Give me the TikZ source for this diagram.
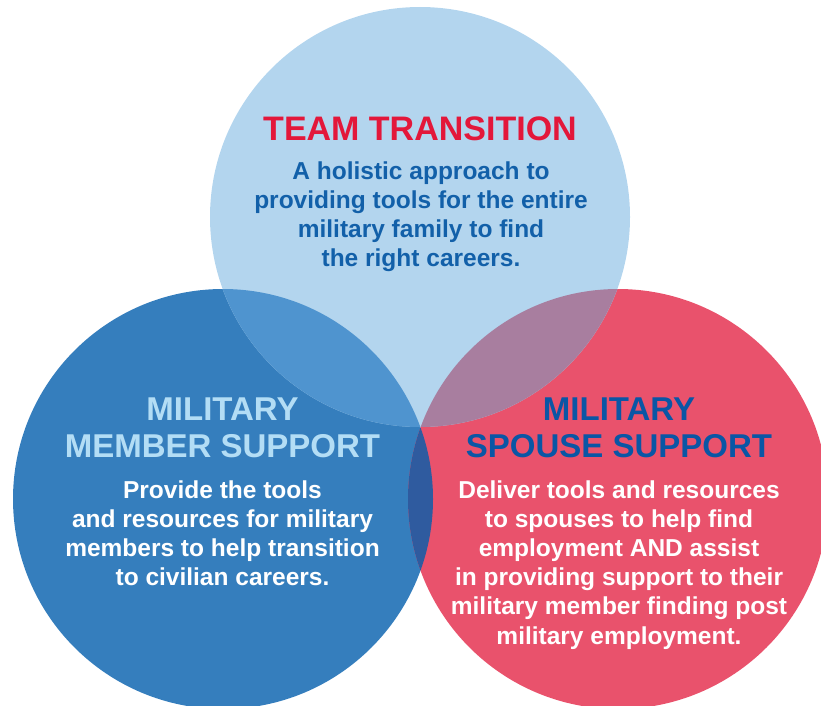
\documentclass[tikz,border=0pt]{standalone}
\usepackage{fontspec}
\setmainfont{Liberation Sans}
\definecolor{topc}{HTML}{B3D5EE}
\definecolor{leftc}{HTML}{357EBD}
\definecolor{rightc}{HTML}{E9526C}
\definecolor{tlc}{HTML}{4F94CF}
\definecolor{trc}{HTML}{A87E9F}
\definecolor{lrc}{HTML}{2F5B9F}
\definecolor{titlered}{HTML}{E3173A}
\definecolor{topblue}{HTML}{1260A9}
\definecolor{lefthead}{HTML}{B3DDF5}
\definecolor{righthead}{HTML}{0A56A5}
\tikzset{
  headtxt/.style={anchor=base, inner sep=0pt, font=\fontsize{33}{37}\selectfont\bfseries},
  bodytxt/.style={anchor=base, inner sep=0pt, font=\fontsize{24.5}{29.2}\selectfont\bfseries}
}
\begin{document}
\begin{tikzpicture}[x=1pt,y=-1pt]
\useasboundingbox (0,0) rectangle (821,706);
\clip (0,0) rectangle (821,706);
% circles
\path[fill=leftc] (223,499) circle (210);
\path[fill=rightc] (618,499) circle (210);
\path[fill=topc] (420,217) circle (210);
\begin{scope}
  \clip (223,499) circle (210);
  \fill[lrc] (618,499) circle (210);
\end{scope}
\begin{scope}
  \clip (420,217) circle (210);
  \fill[tlc] (223,499) circle (210);
  \fill[trc] (618,499) circle (210);
\end{scope}
% top texts
\node[anchor=base, inner sep=0pt, text=titlered, font=\fontsize{34}{40}\selectfont\bfseries] (tt) at (420,140) {TEAM TRANSITION};
\node[bodytxt, text=topblue] (tb) at (421,179) {\begin{tabular}[t]{@{}c@{}}A holistic approach to\\ providing tools for the entire\\ military family to find\\ the right careers.\end{tabular}};
% left texts
\node[headtxt, text=lefthead] (lh) at (222.5,420) {\begin{tabular}[t]{@{}c@{}}MILITARY\\ MEMBER SUPPORT\end{tabular}};
\node[bodytxt, text=white] (lb) at (222.5,498) {\begin{tabular}[t]{@{}c@{}}Provide the tools\\ and resources for military\\ members to help transition\\ to civilian careers.\end{tabular}};
% right texts
\node[headtxt, text=righthead] (rh) at (619,420) {\begin{tabular}[t]{@{}c@{}}MILITARY\\ SPOUSE SUPPORT\end{tabular}};
\node[bodytxt, text=white] (rb) at (619,498) {\begin{tabular}[t]{@{}c@{}}Deliver tools and resources\\ to spouses to help find\\ employment AND assist\\ in providing support to their\\ military member finding post\\ military employment.\end{tabular}};
\end{tikzpicture}
\end{document}
